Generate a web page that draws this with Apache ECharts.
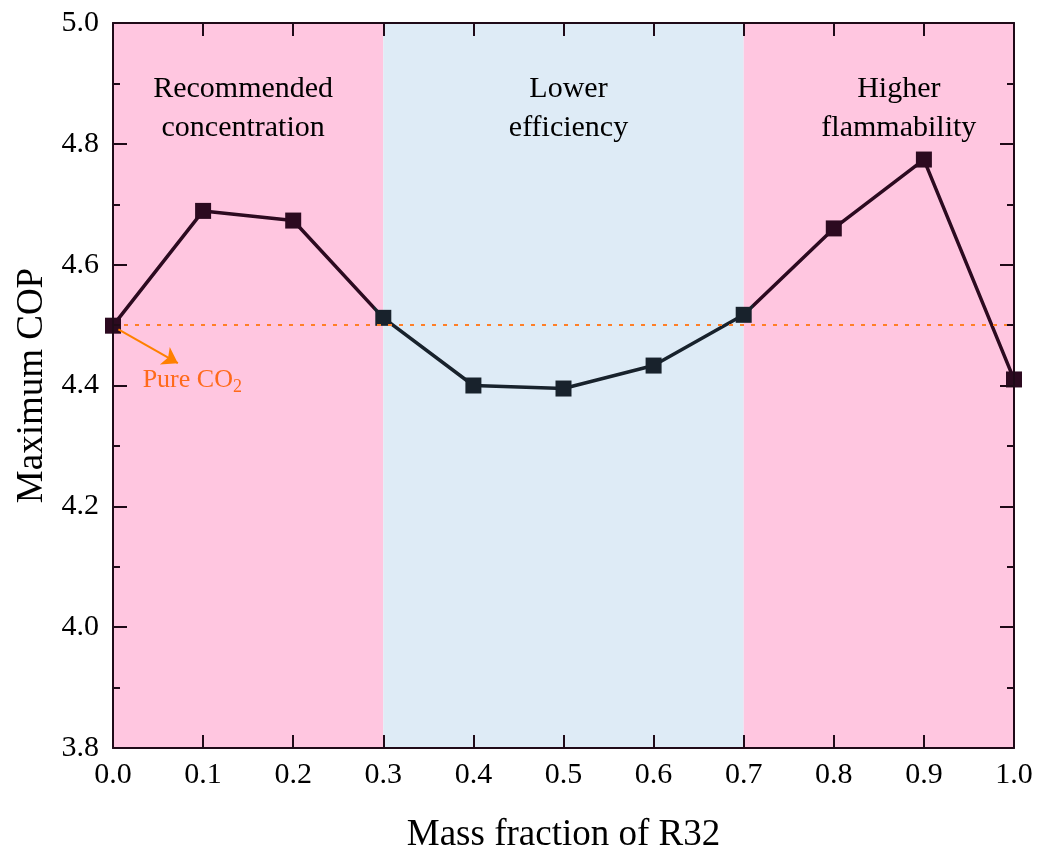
<!DOCTYPE html>
<html><head><meta charset="utf-8">
<script src="https://cdn.jsdelivr.net/npm/echarts@6/dist/echarts.min.js"></script>
<style>html,body{margin:0;padding:0;background:#fff}#c{width:1049px;height:850px}</style>
</head><body><div id="c"></div>
<script>
const massFraction = [0.0, 0.1, 0.2, 0.3, 0.4, 0.5, 0.6, 0.7, 0.8, 0.9, 1.0];
const maxCOP = [4.499, 4.689, 4.673, 4.512, 4.400, 4.395, 4.433, 4.517, 4.660, 4.774, 4.410];
const pureCO2 = 4.499;
const regionFrom = [0.0, 0.3, 0.7];
const regionTo = [0.3, 0.7, 1.0];
const regionNames = ['Recommended\nconcentration', 'Lower\nefficiency', 'Higher\nflammability'];
const regionColors = ['#FFC6E0', '#DEEBF6', '#FFC6E0'];
const regionLabelShift = [-5, 5, 20];

const font = 'Liberation Serif';
const axisCol = '#1f0a18';
const chart = echarts.init(document.getElementById('c'));
const baseX = {
  type: 'value', min: 0, max: 1, interval: 0.1, z: 10,
  axisLine: {show: true, onZero: false, lineStyle: {color: axisCol, width: 2}},
  axisTick: {show: true, inside: true, length: 13, lineStyle: {color: axisCol, width: 2}},
  splitLine: {show: false}
};
const baseY = {
  type: 'value', min: 3.8, max: 5.0, interval: 0.2, z: 10,
  axisLine: {show: true, onZero: false, lineStyle: {color: axisCol, width: 2}},
  axisTick: {show: true, inside: true, length: 14, lineStyle: {color: axisCol, width: 2}},
  minorTick: {show: true, splitNumber: 2, length: 7, lineStyle: {color: axisCol, width: 2}},
  splitLine: {show: false}
};
chart.setOption({
  animation: false,
  grid: {left: 113, right: 35, top: 23, bottom: 102, containLabel: false, outerBoundsMode: 'none'},
  xAxis: [
    Object.assign({}, baseX, {
      position: 'bottom',
      name: 'Mass fraction of R32', nameLocation: 'middle', nameGap: 69,
      nameTextStyle: {fontFamily: font, fontSize: 37, color: '#000'},
      axisLabel: {fontFamily: font, fontSize: 30, color: '#000', margin: 12,
        formatter: v => v.toFixed(1)}
    }),
    Object.assign({}, baseX, {position: 'top', axisLabel: {show: false}})
  ],
  yAxis: [
    Object.assign({}, baseY, {
      position: 'left',
      name: 'Maximum COP', nameLocation: 'middle', nameGap: 50,
      nameTextStyle: {fontFamily: font, fontSize: 37, color: '#000'},
      axisLabel: {fontFamily: font, fontSize: 30, color: '#000', margin: 14,
        formatter: v => v.toFixed(1)}
    }),
    Object.assign({}, baseY, {position: 'right', axisLabel: {show: false}})
  ],
  visualMap: {
    show: false, type: 'piecewise', dimension: 0, seriesIndex: 1,
    pieces: [
      {lt: 0.29, color: '#2c0a20'},
      {gte: 0.29, lte: 0.71, color: '#18222c'},
      {gt: 0.71, color: '#2c0a20'}
    ]
  },
  series: [
    {
      type: 'line', data: [], z: 1,
      markArea: {
        silent: true,
        data: regionNames.map((n, i) => [
          {xAxis: regionFrom[i], yAxis: 3.8, name: n, itemStyle: {color: regionColors[i]},
           label: {offset: [regionLabelShift[i], 0]}},
          {xAxis: regionTo[i], yAxis: 5.0}
        ]),
        label: {show: true, position: 'insideTop', distance: 47,
          fontFamily: font, fontSize: 30, color: '#000', lineHeight: 39, align: 'center'}
      },
      markLine: {
        silent: true, symbol: 'none',
        data: [{yAxis: pureCO2}],
        lineStyle: {color: '#FF7F27', type: [4, 7], width: 2},
        label: {show: false}
      }
    },
    {
      type: 'line', z: 3,
      data: massFraction.map((x, i) => [x, maxCOP[i]]),
      symbol: 'rect', symbolSize: 16,
      lineStyle: {width: 3.5},
      markLine: {
        silent: true, symbol: ['none', 'arrow'], symbolSize: 15,
        lineStyle: {color: '#FF8000', type: 'solid', width: 2},
        label: {show: false},
        data: [[{coord: [0.006, pureCO2 - 0.006]}, {coord: [0.072, pureCO2 - 0.062]}]]
      },
      markPoint: {
        silent: true, symbol: 'rect', symbolSize: 1,
        itemStyle: {color: 'rgba(0,0,0,0)'},
        data: [{coord: [0.088, 4.408]}],
        label: {show: true, position: 'inside',
          formatter: '{a|Pure CO}{b|2}',
          rich: {
            a: {fontFamily: font, fontSize: 26, color: '#FF6A1A'},
            b: {fontFamily: font, fontSize: 18, color: '#FF6A1A', padding: [14, 0, 0, 0]}
          }}
      }
    }
  ]
});
</script></body></html>
